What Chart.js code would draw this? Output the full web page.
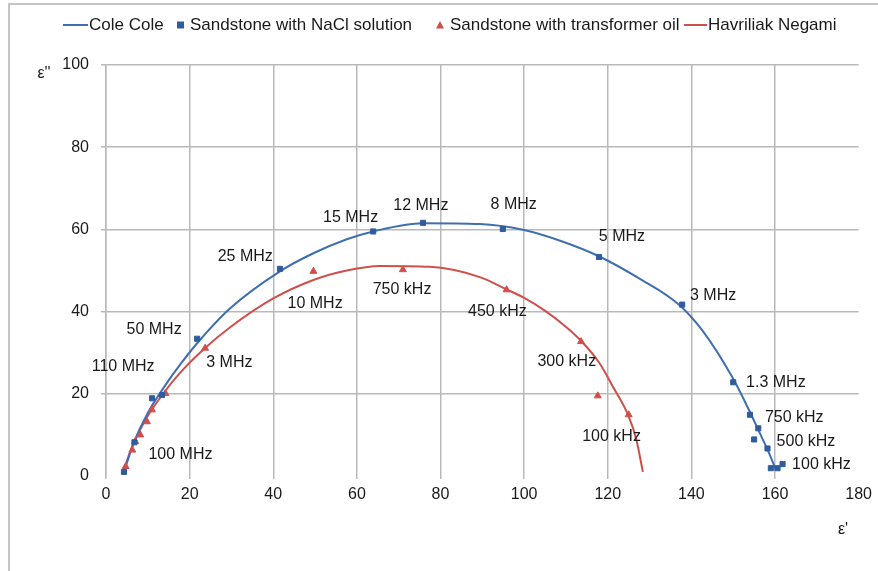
<!DOCTYPE html>
<html>
<head>
<meta charset="utf-8">
<script src="https://cdn.jsdelivr.net/npm/chart.js@4/dist/chart.umd.min.js"></script>
<style>
    html, body { margin: 0; padding: 0; background: #fff; }
    #wrap { width: 878px; height: 571px; position: relative; }
</style>
</head>
<body>
<div id="wrap"><canvas id="chart" width="878" height="571"></canvas></div>
<script>
// Cole-Cole model curve
const coleX = [4.3, 6.6, 9.8, 13.8, 17.8, 21.8, 29.7, 41.6, 49.6, 57.6, 63.9, 75.8, 89.4, 99.7, 109.3, 118, 127.6, 137.1, 142.7, 149.8, 153.8, 156.2, 158.6, 160.2];
const coleY = [1, 8, 15, 21.5, 27.2, 32.3, 40.8, 49.8, 54.2, 57.6, 59.5, 61.5, 61.3, 59.9, 57, 53.4, 48, 41.6, 35.3, 24, 16, 10.8, 5.5, 1.5];

// Havriliak-Negami model curve
const hnX = [4.3, 5.8, 7.8, 9.8, 13.8, 17.8, 23.3, 29.7, 40, 49.6, 57.6, 65.5, 77.4, 89.4, 95.8, 99.7, 105.3, 110.1, 113.6, 118, 121.2, 125, 126.8, 128.4];
const hnY = [1.5, 6, 10.5, 14.3, 20.2, 25.2, 30.8, 36.2, 43.2, 47.7, 50, 51.1, 50.9, 48.4, 45.4, 43.5, 40, 36.2, 32.9, 27.5, 21.8, 14.5, 9, 1];

// measured points
const naclX = [4.3, 6.8, 11, 13.4, 21.8, 41.6, 63.9, 75.8, 94.9, 117.9, 137.8, 150, 154, 156, 155, 158.2, 159, 160.6, 161.8];
const naclY = [1, 8.2, 18.9, 19.7, 33.4, 50.4, 59.5, 61.6, 60.1, 53.3, 41.7, 22.8, 14.9, 11.6, 8.9, 6.7, 1.9, 1.9, 2.9];

const oilX = [4.7, 6.3, 7, 8.2, 9.8, 11, 14.2, 23.7, 49.6, 71, 95.8, 113.6, 117.6, 125];
const oilY = [2.3, 6.3, 8.4, 10, 13.2, 16.1, 20.1, 31.1, 49.8, 50.2, 45.3, 32.7, 19.5, 14.9];

// frequency labels: text, x, y (label centre in data units)
const naclLabels = [
    ["110 MHz", 4.1, 26.6], ["50 MHz", 11.5, 35.6], ["25 MHz", 33.3, 53.4],
    ["15 MHz", 58.5, 62.8], ["12 MHz", 75.3, 65.8], ["8 MHz", 97.5, 66],
    ["5 MHz", 123.4, 58.3], ["3 MHz", 145.2, 43.8], ["1.3 MHz", 160.2, 22.7],
    ["750 kHz", 164.6, 14.3], ["500 kHz", 167.4, 8.4], ["100 kHz", 171.1, 2.7],
];
const oilLabels = [
    ["100 MHz", 17.8, 5.1], ["3 MHz", 29.5, 27.6], ["10 MHz", 50, 41.9],
    ["750 kHz", 70.8, 45.3], ["450 kHz", 93.6, 40], ["300 kHz", 110.2, 27.8],
    ["100 kHz", 120.9, 9.7],
];

const xTicks = [0, 20, 40, 60, 80, 100, 120, 140, 160, 180];
const yTicks = [0, 20, 40, 60, 80, 100];

const BLUE = "#3f6fb0";
const BLUE_PT = "#2f5c9c";
const RED = "#cf4f4b";
const FONT = "'Liberation Sans', Arial, sans-serif";

const pts = (xs, ys) => xs.map((x, i) => ({ x: x, y: ys[i] }));

const extras = {
    id: "extras",
    afterDatasetsDraw(chart) {
        const ctx = chart.ctx;
        const sx = chart.scales.x, sy = chart.scales.y;
        ctx.save();
        ctx.font = "16px " + FONT;
        ctx.fillStyle = "#1a1a1a";
        ctx.textAlign = "center";
        ctx.textBaseline = "middle";
        naclLabels.concat(oilLabels).forEach((l) => {
            ctx.fillText(l[0], sx.getPixelForValue(l[1]), sy.getPixelForValue(l[2]));
        });
        ctx.restore();
    },
    afterDraw(chart) {
        const ctx = chart.ctx;
        ctx.save();
        // outer frame
        ctx.strokeStyle = "#c4c4c4";
        ctx.lineWidth = 2;
        ctx.beginPath();
        ctx.moveTo(9, 571);
        ctx.lineTo(9, 4);
        ctx.lineTo(878, 4);
        ctx.stroke();

        // legend
        const ly = 25;
        ctx.font = "17px " + FONT;
        ctx.fillStyle = "#1a1a1a";
        ctx.textAlign = "left";
        ctx.textBaseline = "middle";
        ctx.lineWidth = 2;
        ctx.strokeStyle = BLUE;
        ctx.beginPath(); ctx.moveTo(63, ly); ctx.lineTo(88, ly); ctx.stroke();
        ctx.fillText("Cole Cole", 89, ly);
        ctx.fillStyle = BLUE_PT;
        ctx.fillRect(177, ly - 3.5, 7, 7);
        ctx.fillStyle = "#1a1a1a";
        ctx.fillText("Sandstone with NaCl solution", 190, ly);
        ctx.fillStyle = RED;
        ctx.beginPath();
        ctx.moveTo(440, ly - 4); ctx.lineTo(444, ly + 3.5); ctx.lineTo(436, ly + 3.5);
        ctx.closePath(); ctx.fill();
        ctx.fillStyle = "#1a1a1a";
        ctx.fillText("Sandstone with transformer oil", 450, ly);
        ctx.strokeStyle = RED;
        ctx.beginPath(); ctx.moveTo(684, ly); ctx.lineTo(707, ly); ctx.stroke();
        ctx.fillText("Havriliak Negami", 708, ly);

        // axis titles
        ctx.font = "16px " + FONT;
        ctx.textAlign = "center";
        ctx.fillText("ε''", 44, 74);
        ctx.fillText("ε'", 843, 530);
        ctx.restore();
    },
};

new Chart(document.getElementById("chart"), {
    type: "scatter",
    data: {
        datasets: [
            {
                label: "Cole Cole",
                data: pts(coleX, coleY),
                showLine: true,
                borderColor: BLUE,
                borderWidth: 2,
                pointRadius: 0,
                cubicInterpolationMode: "monotone",
                order: 3,
            },
            {
                label: "Sandstone with NaCl solution",
                data: pts(naclX, naclY),
                pointStyle: "rect",
                pointRadius: 3.6,
                backgroundColor: BLUE_PT,
                borderColor: BLUE_PT,
                borderWidth: 1,
                order: 1,
            },
            {
                label: "Sandstone with transformer oil",
                data: pts(oilX, oilY),
                pointStyle: "triangle",
                pointRadius: 4,
                backgroundColor: RED,
                borderColor: RED,
                borderWidth: 1,
                order: 2,
            },
            {
                label: "Havriliak Negami",
                data: pts(hnX, hnY),
                showLine: true,
                borderColor: RED,
                borderWidth: 2,
                pointRadius: 0,
                cubicInterpolationMode: "monotone",
                order: 4,
            },
        ],
    },
    options: {
        responsive: false,
        animation: false,
        layout: {
            padding: { top: 65, right: 18, left: 0, bottom: 0 },
        },
        plugins: {
            legend: { display: false },
            tooltip: { enabled: false },
        },
        scales: {
            x: {
                type: "linear",
                min: 0,
                max: 180,
                afterBuildTicks: (scale) => {
                    scale.ticks = xTicks.map((v) => ({ value: v }));
                },
                afterFit: (scale) => {
                    scale.height = 95;
                },
                grid: {
                    color: (c) => (c.tick && c.tick.value === 180 ? "rgba(0,0,0,0)" : "#b9b9b9"),
                    lineWidth: 1.5,
                    tickLength: 3,
                },
                border: { display: false },
                ticks: {
                    padding: 6,
                    color: "#1a1a1a",
                    font: { family: FONT, size: 16 },
                },
            },
            y: {
                type: "linear",
                min: 0,
                max: 100,
                afterBuildTicks: (scale) => {
                    scale.ticks = yTicks.map((v) => ({ value: v }));
                },
                afterFit: (scale) => {
                    scale.width = 106;
                },
                grid: {
                    color: (c) => (c.tick && c.tick.value === 0 ? "rgba(0,0,0,0)" : "#b9b9b9"),
                    lineWidth: 1.5,
                    tickLength: 5,
                },
                border: { display: true, color: "#b9b9b9", width: 1.5 },
                ticks: {
                    padding: 12,
                    color: "#1a1a1a",
                    font: { family: FONT, size: 16 },
                },
            },
        },
    },
    plugins: [extras],
});
</script>
</body>
</html>
